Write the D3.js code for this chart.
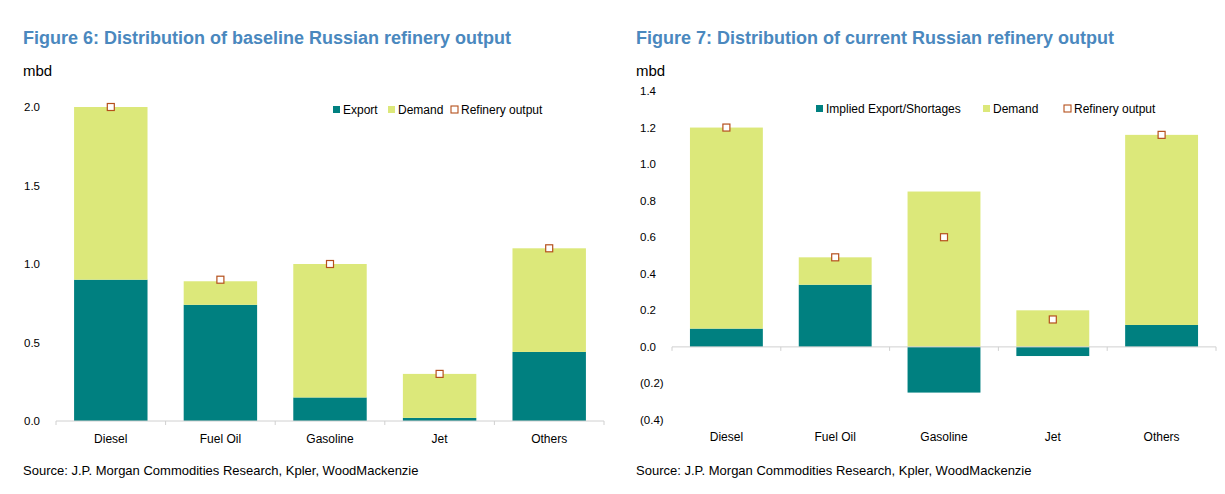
<!DOCTYPE html>
<html><head><meta charset="utf-8">
<script src="https://cdn.jsdelivr.net/npm/d3@7"></script>
<style>body{margin:0;background:#fff;font-family:"Liberation Sans",Arial,sans-serif}</style>
</head><body>
<svg id="c" width="1225" height="494"></svg>
<script>
// categories shared by both figures
var categories = ["Diesel", "Fuel Oil", "Gasoline", "Jet", "Others"];

// figure 6: baseline
var baseExport = [0.9, 0.74, 0.15, 0.02, 0.44];
var baseTotal = [2.0, 0.89, 1.0, 0.3, 1.1];
var baseOutput = [2.0, 0.9, 1.0, 0.3, 1.1];
var baseTicks = [0, 0.5, 1.0, 1.5, 2.0];

// figure 7: current
var curExport = [0.1, 0.34, -0.25, -0.05, 0.12];
var curTotal = [1.2, 0.49, 0.85, 0.2, 1.16];
var curOutput = [1.2, 0.49, 0.6, 0.15, 1.16];
var curTicks = [-0.4, -0.2, 0, 0.2, 0.4, 0.6, 0.8, 1.0, 1.2, 1.4];

var teal = "#008080", lime = "#dce87a", marker = "#b5501c";
var svg = d3.select("#c");

function panel(o) {
    var g = svg.append("g");
    g.append("text").attr("x", o.left).attr("y", 44).text(o.title)
        .attr("fill", "#4a88be").attr("font-size", 18).attr("font-weight", "bold")
        .attr("font-family", "'Liberation Sans Narrow','Liberation Sans',sans-serif");
    g.append("text").attr("x", o.left).attr("y", 76).text("mbd").attr("font-size", 15);
    g.append("text").attr("x", o.left).attr("y", 475).attr("font-size", 13)
        .text("Source: J.P. Morgan Commodities Research, Kpler, WoodMackenzie");

    var x = d3.scaleBand().domain(categories).range([o.x0, o.x1]).paddingInner(0.33).paddingOuter(0.165);
    var y = d3.scaleLinear().domain(o.domain).range([o.yBottom, o.yTop]);

    // y tick labels
    g.selectAll(".yt").data(o.ticks).enter().append("text")
        .attr("x", o.tickX).attr("y", d => y(d) + 4).attr("font-size", 11.5)
        .attr("text-anchor", o.anchor)
        .text(d => d < 0 ? "(" + d3.format(".1f")(-d) + ")" : d3.format(".1f")(d));

    categories.forEach(function (c, i) {
        var e = o.exp[i], t = o.total[i];
        var demandBase = Math.max(e, 0);
        g.append("rect").attr("x", x(c)).attr("width", x.bandwidth())
            .attr("y", y(Math.max(e, 0))).attr("height", Math.abs(y(e) - y(0))).attr("fill", teal);
        g.append("rect").attr("x", x(c)).attr("width", x.bandwidth())
            .attr("y", y(t)).attr("height", y(demandBase) - y(t)).attr("fill", lime);
        g.append("rect").attr("x", x(c) + x.bandwidth() / 2 - 3.5).attr("y", y(o.out[i]) - 3.5)
            .attr("width", 7).attr("height", 7).attr("fill", "#fff")
            .attr("stroke", marker).attr("stroke-width", 1.2);
        g.append("text").attr("x", x(c) + x.bandwidth() / 2).attr("y", o.labelY)
            .attr("text-anchor", "middle").attr("font-size", 12).text(c);
    });

    // zero axis with small ticks between categories
    g.append("line").attr("x1", o.x0).attr("x2", o.x1).attr("y1", y(0)).attr("y2", y(0))
        .attr("stroke", "#d0d0d0");
    d3.range(categories.length + 1).forEach(function (k) {
        var xx = o.x0 + k * x.step() - (k ? 0 : 0);
        g.append("line").attr("x1", xx).attr("x2", xx).attr("y1", y(0)).attr("y2", y(0) + 4)
            .attr("stroke", "#d0d0d0");
    });

    // legend
    o.legend.forEach(function (l) {
        if (l.hollow) {
            g.append("rect").attr("x", l.x).attr("y", o.legY - 4).attr("width", 7).attr("height", 7)
                .attr("fill", "#fff").attr("stroke", marker).attr("stroke-width", 1.1);
        } else {
            g.append("rect").attr("x", l.x).attr("y", o.legY - 4).attr("width", 7).attr("height", 7)
                .attr("fill", l.color);
        }
        g.append("text").attr("x", l.x + 10).attr("y", o.legY + 4).attr("font-size", 12).text(l.name);
    });
}

panel({
    title: "Figure 6: Distribution of baseline Russian refinery output", left: 23,
    x0: 56, x1: 604, domain: [0, 2.0], yBottom: 421, yTop: 107, ticks: baseTicks,
    tickX: 24, anchor: "start", labelY: 443,
    exp: baseExport, total: baseTotal, out: baseOutput, legY: 110,
    legend: [{ x: 333, color: teal, name: "Export" }, { x: 388, color: lime, name: "Demand" },
             { x: 451, hollow: true, name: "Refinery output" }]
});

panel({
    title: "Figure 7: Distribution of current Russian refinery output", left: 636,
    x0: 672, x1: 1216, domain: [-0.4, 1.4], yBottom: 420, yTop: 91, ticks: curTicks,
    tickX: 640, anchor: "start", labelY: 441,
    exp: curExport, total: curTotal, out: curOutput, legY: 109,
    legend: [{ x: 816, color: teal, name: "Implied Export/Shortages" }, { x: 983, color: lime, name: "Demand" },
             { x: 1064, hollow: true, name: "Refinery output" }]
});
</script>
</body></html>
